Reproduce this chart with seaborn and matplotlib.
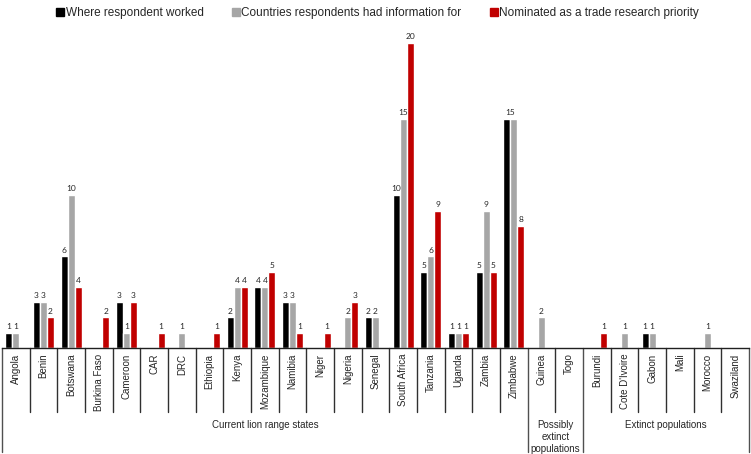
import matplotlib
matplotlib.use("Agg")
import matplotlib.pyplot as plt
import matplotlib.transforms as mtransforms
from matplotlib.patches import Patch
import seaborn as sns
import pandas as pd

# data
countries = ["Angola", "Benin", "Botswana", "Burkina Faso", "Cameroon", "CAR", "DRC",
             "Ethiopia", "Kenya", "Mozambique", "Namibia", "Niger", "Nigeria", "Senegal",
             "South Africa", "Tanzania", "Uganda", "Zambia", "Zimbabwe",
             "Guinea", "Togo",
             "Burundi", "Cote D'Ivoire", "Gabon", "Mali", "Morocco", "Swaziland"]
worked = [1, 3, 6, 0, 3, 0, 0, 0, 2, 4, 3, 0, 0, 2, 10, 5, 1, 5, 15, 0, 0, 0, 0, 1, 0, 0, 0]
info = [1, 3, 10, 0, 1, 0, 1, 0, 4, 4, 3, 0, 2, 2, 15, 6, 1, 9, 15, 2, 0, 0, 1, 1, 0, 1, 0]
priority = [0, 2, 4, 2, 3, 1, 0, 1, 4, 5, 1, 1, 3, 0, 20, 9, 1, 5, 8, 0, 0, 1, 0, 0, 0, 0, 0]

series = ["Where respondent worked", "Countries respondents had information for",
          "Nominated as a trade research priority"]
colors = ["#000000", "#a6a6a6", "#c00000"]

groups = ["Current lion range states", "Possibly\nextinct\npopulations", "Extinct populations"]
group_spans = [(0, 18), (19, 20), (21, 26)]

df = pd.DataFrame({
    "country": countries * 3,
    "value": worked + info + priority,
    "series": [series[0]] * len(countries) + [series[1]] * len(countries) + [series[2]] * len(countries),
})

sns.set_style("white")
plt.rcParams["font.family"] = ["Liberation Sans", "DejaVu Sans"]

fig = plt.figure(figsize=(7.51, 4.54), dpi=100)
ax = fig.add_axes([2 / 751, 106 / 454, 747 / 751, 336 / 454])

sns.barplot(data=df, x="country", y="value", hue="series", order=countries,
            hue_order=series, palette=colors, width=0.76, saturation=1,
            legend=False, ax=ax)

zim = countries.index("Zimbabwe")
for k, cont in enumerate(ax.containers):
    labels = [str(int(v)) if v > 0 else "" for v in cont.datavalues]
    if k == 1:
        labels[zim] = ""  # one shared "15" over black and grey bars
    texts = ax.bar_label(cont, labels=labels, padding=2, fontsize=6, family="Lato")
    if k == 0:
        texts[zim].xyann = (2.5, texts[zim].xyann[1])

n = len(countries)
ax.set_xlim(-0.5, n - 0.5)
ax.set_ylim(0, 22)
ax.set_xlabel("")
ax.set_ylabel("")
ax.set_yticks([])
ax.tick_params(axis="x", length=0, labelsize=7, pad=4, labelrotation=90)
for s in ["left", "right", "top"]:
    ax.spines[s].set_visible(False)
ax.spines["bottom"].set_color("#202020")
ax.spines["bottom"].set_linewidth(1)

# divider lines under the axis
tr = mtransforms.blended_transform_factory(ax.transData, fig.transFigure)
y0 = 106 / 454
y_short = 42 / 454
y_long = 2 / 454
edges = {-0.5, n - 0.5}
for a, b in group_spans:
    edges.add(a - 0.5)
    edges.add(b + 0.5)
for i in range(n + 1):
    x = i - 0.5
    if x in edges:
        ax.plot([x, x], [y0, y_long], transform=tr, color="#505050", lw=1, clip_on=False)
    else:
        ax.plot([x, x], [y0, y_short], transform=tr, color="#303030", lw=1, clip_on=False)

for label, (a, b) in zip(groups, group_spans):
    ax.text((a + b) / 2, 34 / 454, label, transform=tr, ha="center", va="top",
            fontsize=7, linespacing=1.25)

handles = [Patch(facecolor=c, edgecolor=c) for c in colors]
fig.legend(handles, series, loc="center", bbox_to_anchor=(0.503, 0.971), ncol=3,
           frameon=False, fontsize=8.5, handlelength=0.65, handleheight=0.65,
           handletextpad=0.15, columnspacing=2.4, borderpad=0, borderaxespad=0)

fig.savefig("out.png", dpi=100)
